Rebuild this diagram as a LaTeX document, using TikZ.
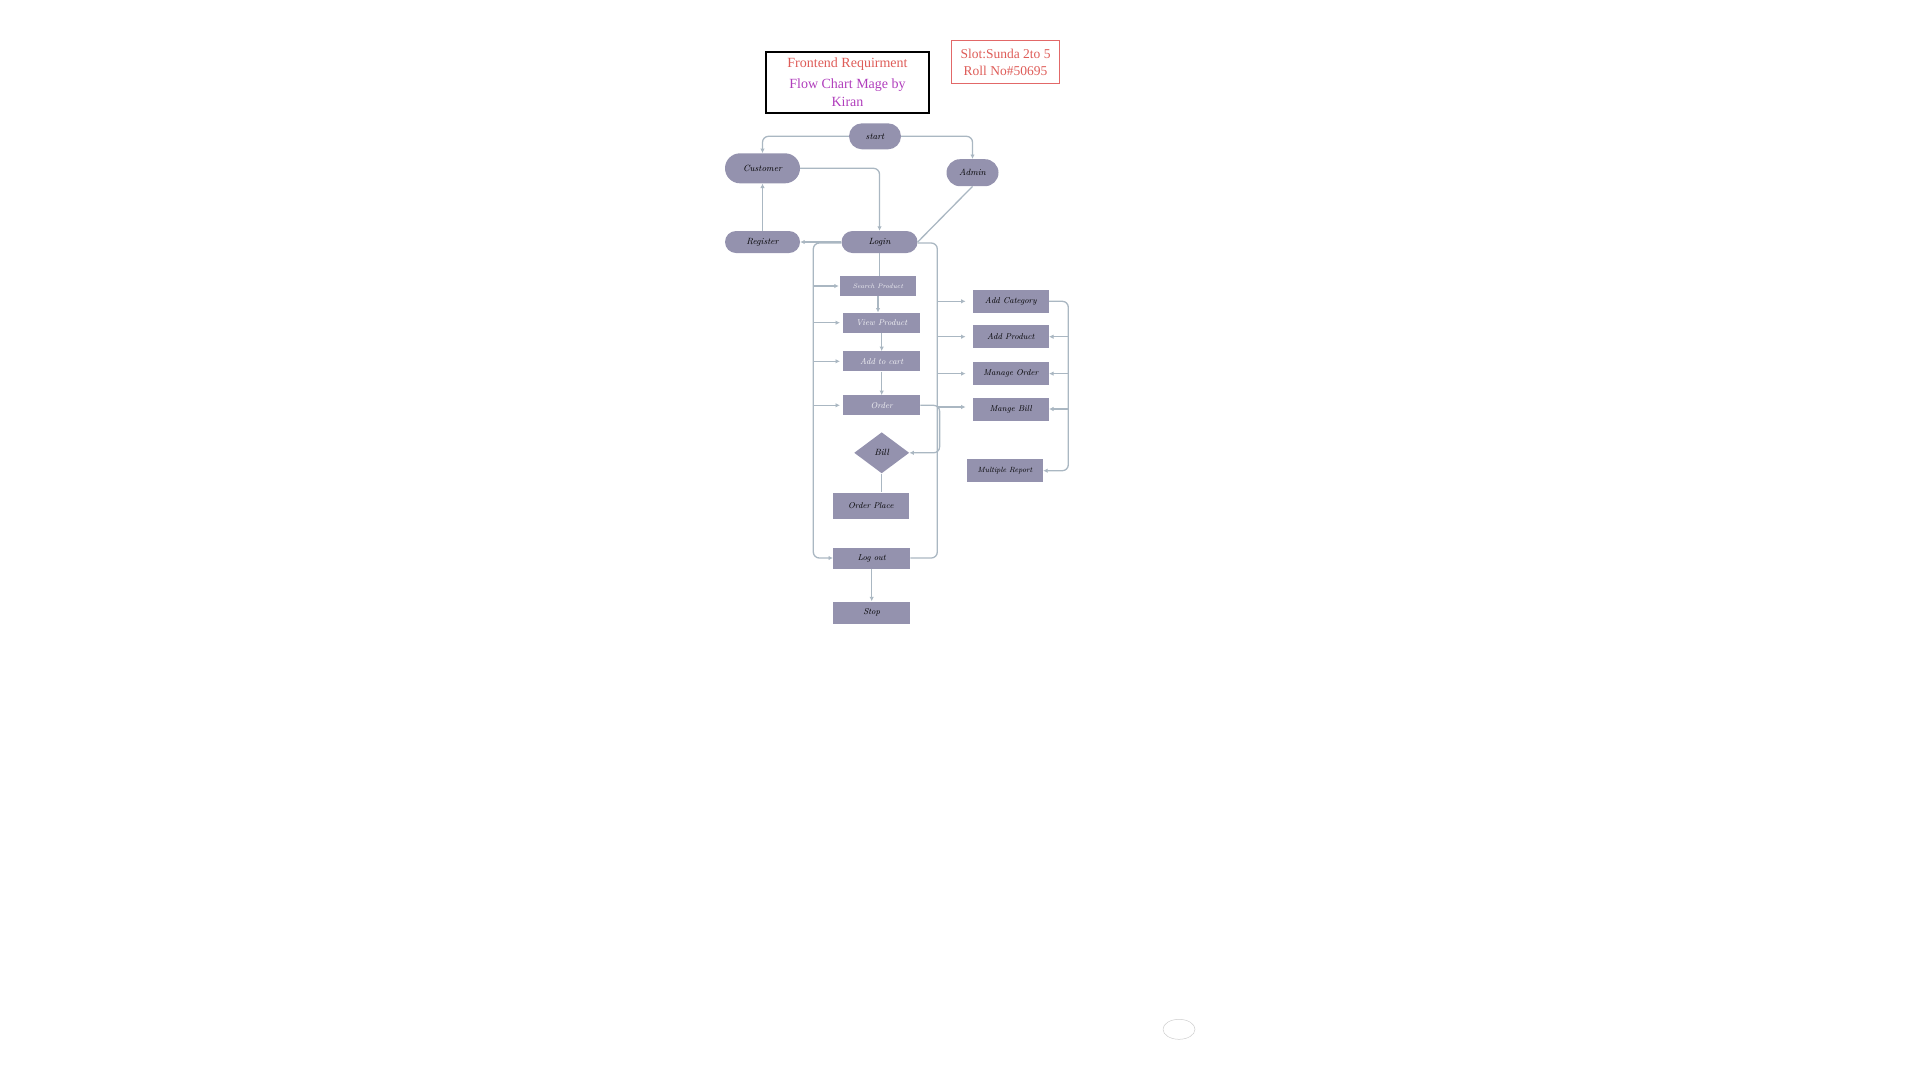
\documentclass[tikz,border=0pt]{standalone}
\usepackage{fontspec}
\newfontfamily\headfont{Liberation Serif}
\usepackage{tikz}
\usetikzlibrary{shapes.geometric, shapes.misc, arrows.meta, positioning}

\definecolor{boxfill}{RGB}{148,146,174}
\definecolor{wire}{RGB}{170,183,194}
\definecolor{headred}{RGB}{222,92,88}
\definecolor{headpurple}{RGB}{176,62,188}
\definecolor{slotred}{RGB}{226,104,104}

\begin{document}
\begin{tikzpicture}[
    x=1pt, y=-1pt,
    >={Latex[length=4.5pt,width=4.5pt]},
    node distance=12pt,
    pill/.style={rounded rectangle, fill=boxfill, inner sep=1pt, font=\fontsize{9}{10}\selectfont\itshape},
    task/.style={rectangle, fill=boxfill, inner sep=1pt, minimum width=76pt, minimum height=23pt, font=\fontsize{8.5}{10}\selectfont\itshape},
    pale/.style={text=white!90!boxfill},
    decide/.style={diamond, fill=boxfill, inner sep=0pt, minimum width=55pt, minimum height=41pt, font=\fontsize{9}{10}\selectfont\itshape},
    flow/.style={draw=wire, line width=1.3pt, rounded corners=6pt}
]
\useasboundingbox (0,0) rectangle (1920,1080);

% Heading
\node[draw=black, line width=1.6pt, minimum width=163pt, minimum height=61pt, align=center, font=\headfont\fontsize{14}{18}\selectfont] (title) at (847.5,82.3)
    {\textcolor{headred}{Frontend Requirment}\\[2.5pt]\textcolor{headpurple}{Flow Chart Mage by}\\\textcolor{headpurple}{Kiran}};
\node[draw=slotred, line width=0.8pt, minimum width=108pt, minimum height=43pt, align=center, text=headred, font=\headfont\fontsize{13.5}{16.6}\selectfont] (slot) at (1005.5,62.3)
    {Slot:Sunda 2to 5\\Roll No\#50695};

% Entry Nodes
\node[pill, minimum width=54pt, minimum height=26pt] (start) at (875,136.3) {start};
\node[pill, minimum width=77pt, minimum height=30pt] (cust) at (762.5,168.3) {Customer};
\node[pill, minimum width=54pt, minimum height=27pt] (admin) at (972.5,172.7) {Admin};
\node[pill, minimum width=77pt, minimum height=22pt] (reg) at (762.5,242) {Register};
\node[pill, minimum width=78pt, minimum height=22pt] (login) at (879.5,242) {Login};

% Customer Side
\node[task, pale, minimum height=20pt, font=\fontsize{6.5}{8}\selectfont\itshape] (search) at (878,286) {Search Product};
\node[task, pale, minimum width=77pt, minimum height=20pt] (view) at (881.7,322.7) {View Product};
\node[task, pale, minimum width=77pt, minimum height=20pt] (cart) at (881.7,361.3) {Add to cart};
\node[task, pale, minimum width=77pt, minimum height=20pt] (order) at (881.7,405.3) {Order};
\node[decide] (bill) at (881.7,452.8) {Bill};
\node[task, minimum height=26pt] (place) at (870.8,505.5) {Order Place};
\node[task, minimum width=77pt, minimum height=21pt] (logout) at (871.7,558) {Log out};
\node[task, minimum width=77pt, minimum height=22pt] (stop) at (871.7,612.5) {Stop};

% Admin Side
\node[task] (addcat) at (1010.8,301.3) {Add Category};
\node[task, below=12pt of addcat] (addprod) {Add Product};
\node[task, below=13.5pt of addprod] (mngorder) {Manage Order};
\node[task, below=12pt of mngorder] (mngbill) {Mange Bill};
\node[task, font=\fontsize{7.5}{9}\selectfont\itshape] (report) at (1005,470.7) {Multiple Report};

\node[ellipse, draw=gray!40, line width=0.5pt, minimum width=32pt, minimum height=20pt] (blob) at (1179,1029.3) {};

% Rails
\coordinate (lrail) at (813.3,0);
\coordinate (rrail) at (937.3,0);
\coordinate (brail) at (939.6,0);
\coordinate (arail) at (1068.3,0);

% Edges from start
\draw[flow, ->] (start.west) -| (cust.north);
\draw[flow, ->] (start.east) -| (admin.north);
\draw[flow, ->] (cust.east) -| (login.north);
\draw[flow, ->] (reg.north) -- (cust.south);
\draw[flow, ->] (login.west) -- (reg.east);
\draw[flow] (admin.south) -- (login.east);

% Customer flow
\draw[flow] (login.south) -- (login.south |- search.north);
\draw[flow, ->] (search.south) -- (search.south |- view.north);
\draw[flow, ->] (view.south) -- (cart.north);
\draw[flow, ->] (cart.south) -- (order.north);
\draw[flow, ->] (order.east) -| (brail |- bill.east) -- (bill.east);
\draw[flow] (bill.south) -- (bill.south |- place.north);
\draw[flow, ->] (logout.south) -- (stop.north);

% Left rail
\draw[flow, ->] ([yshift=-1pt]login.west) -| (lrail |- logout.west) -- (logout.west);
\draw[flow, ->, shorten >=1pt] (lrail |- search.west) -- (search.west);
\draw[flow, ->, shorten >=3pt] (lrail |- view.west) -- (view.west);
\draw[flow, ->, shorten >=3pt] (lrail |- cart.west) -- (cart.west);
\draw[flow, ->, shorten >=3pt] (lrail |- order.west) -- (order.west);

% Right rail
\draw[flow] ([yshift=-1pt]login.east) -| (rrail |- logout.east) -- (logout.east);
\draw[flow, ->, shorten >=7pt] (rrail |- addcat.west) -- (addcat.west);
\draw[flow, ->, shorten >=7pt] (rrail |- addprod.west) -- (addprod.west);
\draw[flow, ->, shorten >=7pt] (rrail |- mngorder.west) -- (mngorder.west);
\draw[flow, ->, shorten >=7pt] ([yshift=2pt]rrail |- mngbill.west) -- ([yshift=2pt]mngbill.west);

% Admin rail
\draw[flow, ->] (addcat.east) -| (arail |- report.east) -- (report.east);
\draw[flow, ->] (arail |- addprod.east) -- (addprod.east);
\draw[flow, ->] (arail |- mngorder.east) -- (mngorder.east);
\draw[flow, ->] (arail |- mngbill.east) -- (mngbill.east);

\end{tikzpicture}
\end{document}
